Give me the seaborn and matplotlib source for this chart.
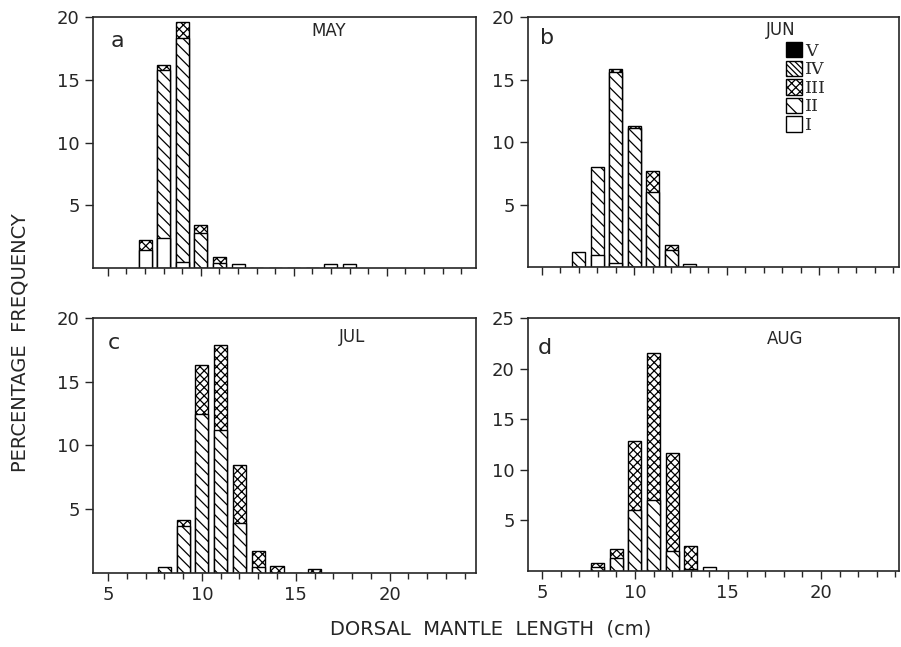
import numpy as np
import matplotlib
matplotlib.use('Agg')
import matplotlib.pyplot as plt
from matplotlib.patches import Patch
from matplotlib.ticker import MultipleLocator
import seaborn as sns

# dorsal mantle length classes (cm) - bar centres
lengths = [7, 8, 9, 10, 11, 12, 13, 14, 15, 16, 17, 18]

# percentage frequency per maturity stage
may_I   = [1.4, 2.4, 0.5, 0.0, 0.0, 0.3, 0.0, 0.0, 0, 0.0, 0.3, 0.3]
may_II  = [0.0, 13.4, 17.8, 2.8, 0.4, 0.0, 0.0, 0.0, 0, 0.0, 0.0, 0.0]
may_III = [0.8, 0.35, 1.3, 0.6, 0.45, 0.0, 0.0, 0.0, 0, 0.0, 0.0, 0.0]

jun_I   = [0.0, 1.0, 0.3, 0.0, 0.0, 0.0, 0.25, 0.0, 0, 0.0, 0.0, 0.0]
jun_II  = [1.2, 7.0, 15.3, 11.1, 6.0, 1.4, 0.0, 0.0, 0, 0.0, 0.0, 0.0]
jun_III = [0.0, 0.0, 0.25, 0.2, 1.7, 0.4, 0.0, 0.0, 0, 0.0, 0.0, 0.0]

jul_I   = [0.0, 0.0, 0.0, 0.0, 0.0, 0.0, 0.0, 0.0, 0, 0.0, 0.0, 0.0]
jul_II  = [0.0, 0.5, 3.7, 12.5, 11.2, 3.9, 0.5, 0.0, 0, 0.0, 0.0, 0.0]
jul_III = [0.0, 0.0, 0.45, 3.8, 6.7, 4.6, 1.2, 0.55, 0, 0.3, 0.0, 0.0]

aug_I   = [0.0, 0.0, 0.0, 0.0, 0.0, 0.0, 0.0, 0.35, 0, 0.0, 0.0, 0.0]
aug_II  = [0.0, 0.4, 1.25, 6.0, 7.0, 2.0, 0.2, 0.0, 0, 0.0, 0.0, 0.0]
aug_III = [0.0, 0.4, 0.9, 6.8, 14.5, 9.7, 2.3, 0.0, 0, 0.0, 0.0, 0.0]

months = ['MAY', 'JUN', 'JUL', 'AUG']
letters = ['a', 'b', 'c', 'd']
ymax = [20, 20, 20, 25]

sns.set_style('ticks')
plt.rcParams['font.family'] = ['DejaVu Sans']
plt.rcParams['hatch.linewidth'] = 0.9

fig = plt.figure(figsize=(9.01, 6.47), dpi=100)
axes = [
    fig.add_axes([0.1032, 0.5858, 0.4251, 0.3879]),
    fig.add_axes([0.586, 0.5873, 0.4118, 0.3864]),
    fig.add_axes([0.1032, 0.1144, 0.4251, 0.3941]),
    fig.add_axes([0.586, 0.1175, 0.4118, 0.391]),
]

data = [
    (may_I, may_II, may_III),
    (jun_I, jun_II, jun_III),
    (jul_I, jul_II, jul_III),
    (aug_I, aug_II, aug_III),
]

hatch_I = ''
hatch_II = '\\\\\\'
hatch_III = 'xxxx'

month_pos = [(0.616, 0.944), (0.682, 0.948), (0.676, 0.925), (0.693, 0.917)]
letter_pos = [(0.063, 0.904), (0.051, 0.916), (0.055, 0.902), (0.046, 0.881)]
xlims = [(4.2, 24.8), (4.26, 24.3), (4.2, 24.6), (4.25, 24.2)]

for i, ax in enumerate(axes):
    s1, s2, s3 = [np.array(s) for s in data[i]]
    x = np.array(lengths)
    # overlapping cumulative bars: top stage first, lower stages drawn over it
    layers = [(s1 + s2 + s3, s3, hatch_III), (s1 + s2, s2, hatch_II), (s1, s1, hatch_I)]
    for cum, part, h in layers:
        m = part > 0
        if m.sum() == 0:
            continue
        sns.histplot(x=x[m], weights=cum[m], discrete=True, shrink=0.7, ax=ax,
                     color='white', edgecolor='black', linewidth=1.0,
                     hatch=h, alpha=1)
    ax.set_xlim(*xlims[i])
    ax.set_ylim(0, ymax[i])
    ax.set_yticks(list(range(5, ymax[i] + 1, 5)))
    ax.set_xticks([5, 10, 15, 20])
    ax.xaxis.set_minor_locator(MultipleLocator(1))
    ax.tick_params(axis='both', direction='out', length=6, width=1, labelsize=13)
    ax.tick_params(axis='x', which='minor', direction='out', length=4, width=1)
    ax.set_ylabel('')
    ax.set_xlabel('')
    if i < 2:
        ax.tick_params(axis='x', labelbottom=False)
    for sp in ax.spines.values():
        sp.set_visible(True)
        sp.set_linewidth(1.2)
    ax.text(*letter_pos[i], letters[i], transform=ax.transAxes, fontsize=16,
            ha='center', va='center')
    ax.text(*month_pos[i], months[i], transform=ax.transAxes, fontsize=12,
            ha='center', va='center')

# maturity stage legend in panel b
handles = [
    Patch(facecolor='black', edgecolor='black'),
    Patch(facecolor='white', edgecolor='black', hatch='\\\\\\\\\\\\'),
    Patch(facecolor='white', edgecolor='black', hatch=hatch_III),
    Patch(facecolor='white', edgecolor='black', hatch='\\\\'),
    Patch(facecolor='white', edgecolor='black'),
]
axes[1].legend(handles, ['V', 'IV', 'III', 'II', 'I'], loc='upper left',
               bbox_to_anchor=(0.672, 0.935), frameon=False, handlelength=0.95,
               handleheight=1.0, handletextpad=0.15, labelspacing=0.05,
               borderpad=0, prop={'family': 'DejaVu Serif', 'size': 12.5})

fig.text(0.022, 0.47, 'PERCENTAGE  FREQUENCY', rotation=90, fontsize=14,
         ha='center', va='center')
fig.text(0.545, 0.028, 'DORSAL  MANTLE  LENGTH  (cm)', fontsize=14,
         ha='center', va='center')

plt.savefig('out.png', dpi=100)
